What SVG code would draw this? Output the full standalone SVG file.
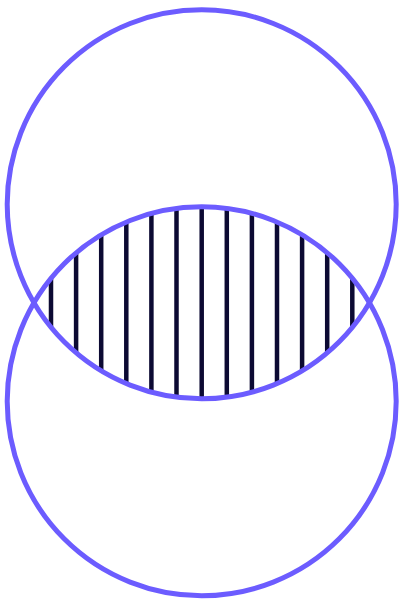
<svg xmlns="http://www.w3.org/2000/svg" width="399" height="600" viewBox="0 0 399 600">
<style>
.ring{fill:none;stroke:#6c5cff;stroke-width:5}
.hatch{stroke:#0c0a33;stroke-width:4.5}
</style>
<defs>
<clipPath id="top"><circle cx="201.7" cy="204.3" r="194.5"/></clipPath>
<clipPath id="bot"><circle cx="201.7" cy="401.3" r="194.5"/></clipPath>
</defs>
<rect width="399" height="600" fill="#fff"/>
<g id="intersection" clip-path="url(#top)">
<g clip-path="url(#bot)">
<g class="hatch">
<line x1="51" y1="200" x2="51" y2="410"/>
<line x1="76.1" y1="200" x2="76.1" y2="410"/>
<line x1="101.2" y1="200" x2="101.2" y2="410"/>
<line x1="126.3" y1="200" x2="126.3" y2="410"/>
<line x1="151.4" y1="200" x2="151.4" y2="410"/>
<line x1="176.5" y1="200" x2="176.5" y2="410"/>
<line x1="201.7" y1="200" x2="201.7" y2="410"/>
<line x1="226.8" y1="200" x2="226.8" y2="410"/>
<line x1="251.9" y1="200" x2="251.9" y2="410"/>
<line x1="277" y1="200" x2="277" y2="410"/>
<line x1="302.1" y1="200" x2="302.1" y2="410"/>
<line x1="327.2" y1="200" x2="327.2" y2="410"/>
<line x1="352.3" y1="200" x2="352.3" y2="410"/>
</g>
</g>
</g>
<g id="circle-top"><circle class="ring" cx="201.7" cy="204.3" r="194.5"/></g>
<g id="circle-bottom"><circle class="ring" cx="201.7" cy="401.3" r="194.5"/></g>
</svg>
